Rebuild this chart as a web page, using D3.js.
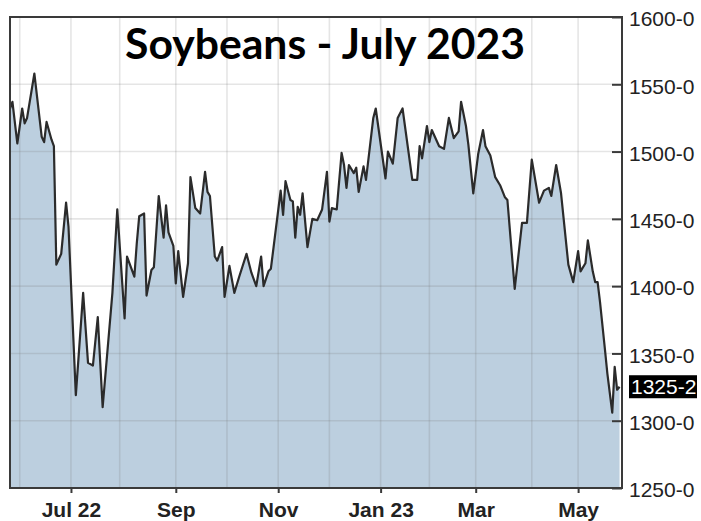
<!DOCTYPE html>
<html>
<head>
<meta charset="utf-8">
<script src="https://cdn.jsdelivr.net/npm/d3@7"></script>
<style>
  html, body { margin: 0; padding: 0; background: #fff; }
  svg { display: block; }
</style>
</head>
<body>
<svg id="chart" width="701" height="521"></svg>
<script>
// ---- data (trading-day index from chart start, settle price in cents/bu) ----
const dayIndex = [0,1,3,5,6,7,10,13,14,15,17,18,19,21,23,24,27,30,32,34,36,38,42,44,47,48,51,52,53,55,56,58,59,61,63,64,65,67,68,69,71,73,74,76,78,80,81,82,84,85,87,88,90,92,94,97,99,101,103,104,106,107,111,112,113,115,116,117,118,119,120,122,124,126,128,130,131,132,134,136,137,138,139,141,142,143,145,146,149,150,154,155,157,159,161,165,167,168,169,171,172,173,176,178,180,182,184,185,187,188,190,192,194,195,197,199,201,203,204,205,207,210,212,214,217,219,221,222,224,226,229,231,233,234,236,237,239,240,241,242,244,245,247,248,249,250];
const price = [1532,1537,1506,1532,1521,1525,1558,1511,1507,1522,1509,1504,1416,1424,1462,1444,1319,1395,1343,1341,1377,1310,1395,1457,1376,1422,1407,1432,1452,1454,1393,1412,1414,1467,1436,1460,1440,1430,1402,1426,1392,1417,1481,1458,1454,1485,1470,1467,1422,1419,1429,1392,1415,1395,1407,1424,1410,1400,1422,1400,1411,1413,1471,1453,1478,1464,1463,1436,1459,1453,1469,1429,1450,1449,1457,1485,1448,1458,1457,1499,1490,1473,1490,1484,1488,1470,1489,1479,1525,1532,1480,1500,1491,1525,1532,1479,1479,1504,1495,1519,1507,1516,1504,1502,1525,1510,1515,1537,1519,1505,1469,1498,1516,1504,1497,1481,1475,1466,1464,1442,1398,1447,1447,1494,1462,1471,1473,1467,1490,1469,1416,1403,1426,1411,1417,1434,1411,1403,1403,1388,1353,1335,1306,1340,1323,1325.25];

const tickDays   = [25, 68, 110, 152, 191, 233];
const tickLabels = ["Jul 22", "Sep", "Nov", "Jan 23", "Mar", "May"];
const monthGridDays = [4, 25, 45, 68, 89, 110, 131, 152, 172, 191, 214, 233];
const yTicks      = [1250, 1300, 1350, 1400, 1450, 1500, 1550, 1600];
const yTickLabels = ["1250-0", "1300-0", "1350-0", "1400-0", "1450-0", "1500-0", "1550-0", "1600-0"];
const lastPrice = 1325.25;
const lastLabel = "1325-2";
const titleText = "Soybeans - July 2023";

// ---- layout ----
const svg = d3.select("#chart");
const L = 10, R = 622, T = 17, B = 488;
const x = d3.scaleLinear().domain([0, 251]).range([L, R]);
const y = d3.scaleLinear().domain([1250, 1600]).range([B, T]);
const data = dayIndex.map((d, i) => ({ d, v: price[i] }));

// area
const area = d3.area().x(p => x(p.d)).y0(B).y1(p => y(p.v)).curve(d3.curveLinear);
svg.append("path").datum(data).attr("d", area).attr("fill", "#bccfdf");

// gridlines
const grid = svg.append("g").attr("stroke", "rgba(110,110,110,0.18)").attr("stroke-width", 1.6);
grid.selectAll("line.h").data(yTicks.filter(v => v > 1250 && v < 1600)).join("line")
  .attr("x1", L).attr("x2", R).attr("y1", v => y(v)).attr("y2", v => y(v));
grid.selectAll("line.v").data(monthGridDays).join("line")
  .attr("x1", d => x(d)).attr("x2", d => x(d)).attr("y1", T).attr("y2", B);

// line
const line = d3.line().x(p => x(p.d)).y(p => y(p.v));
svg.append("path").datum(data).attr("d", line)
  .attr("fill", "none").attr("stroke", "#2b2b2b").attr("stroke-width", 2.2)
  .attr("stroke-linejoin", "round");

// frame
svg.append("rect").attr("x", L).attr("y", T).attr("width", R - L).attr("height", B - T)
  .attr("fill", "none").attr("stroke", "#3a3a3a").attr("stroke-width", 2);

// right axis
const yAxis = d3.axisRight(y).tickValues(yTicks).tickFormat((d, i) => yTickLabels[i])
  .tickSizeInner(-10).tickSizeOuter(0).tickPadding(7);
const ga = svg.append("g").attr("transform", `translate(${R},0)`).call(yAxis);
ga.select(".domain").remove();
ga.selectAll(".tick line").attr("stroke", "#3a3a3a").attr("stroke-width", 2);
ga.selectAll(".tick text").attr("font-family", "Liberation Sans, Arial, sans-serif")
  .attr("font-size", 21).attr("fill", "#222").attr("dy", "0.42em");

// bottom axis
const xAxis = d3.axisBottom(x).tickValues(tickDays).tickFormat((d, i) => tickLabels[i])
  .tickSize(5).tickPadding(9);
const gx = svg.append("g").attr("transform", `translate(0,${B})`).call(xAxis);
gx.select(".domain").remove();
gx.selectAll(".tick line").attr("stroke", "#3a3a3a").attr("stroke-width", 2);
gx.selectAll(".tick text").attr("font-family", "Liberation Sans, Arial, sans-serif")
  .attr("font-size", 21).attr("font-weight", "bold").attr("fill", "#222");

// last price label
const ly = y(lastPrice);
svg.append("rect").attr("x", R + 7).attr("y", ly - 11.5).attr("width", 68).attr("height", 23).attr("fill", "#000");
svg.append("text").attr("x", R + 9).attr("y", ly).attr("dy", "0.36em")
  .attr("font-family", "Liberation Sans, Arial, sans-serif").attr("font-size", 21)
  .attr("fill", "#fff").text(lastLabel);

// title
const title = svg.append("text").attr("x", 325).attr("y", 59).attr("text-anchor", "middle")
  .attr("font-family", "Lato, 'Open Sans', sans-serif").attr("font-weight", "bold")
  .attr("font-size", 40).attr("fill", "#000").text(titleText);
const w = title.node().getComputedTextLength();
title.attr("font-size", 40 * 400 / w);
</script>
</body>
</html>
